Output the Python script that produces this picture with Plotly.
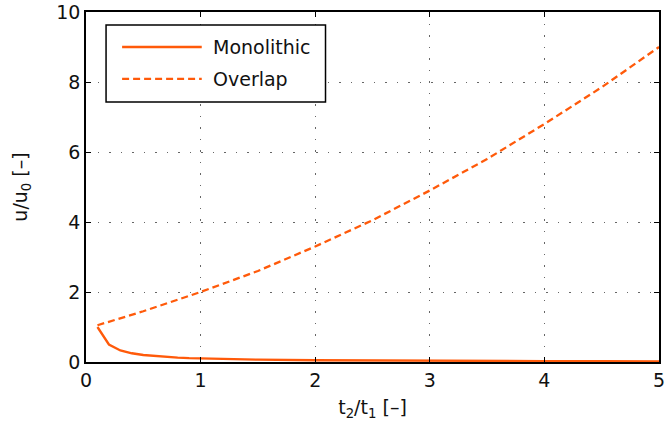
import plotly.graph_objects as go

# Data
ratio_mono = [0.1, 0.2, 0.3, 0.4, 0.5, 0.6, 0.7, 0.8, 0.9, 1.0, 1.5, 2.0, 2.5, 3.0, 3.5, 4.0, 4.5, 5.0]
u_mono = [1.0, 0.5, 0.33, 0.25, 0.2, 0.17, 0.14, 0.125, 0.11, 0.1, 0.067, 0.05, 0.04, 0.033, 0.029, 0.025, 0.022, 0.02]

ratio_overlap = [0.1, 0.5, 1.0, 1.5, 2.0, 2.5, 3.0, 3.5, 4.0, 4.5, 5.0]
u_overlap = [1.05, 1.45, 2.0, 2.6, 3.3, 4.05, 4.9, 5.8, 6.8, 7.85, 9.0]

x_ticks = [0, 1, 2, 3, 4, 5]
y_ticks = [0, 2, 4, 6, 8, 10]

COLOR = "#ff5a0a"
FONT = "DejaVu Sans"
DASH = "7px,4px"

fig = go.Figure()
fig.add_trace(go.Scatter(x=ratio_mono, y=u_mono, mode="lines", name="Monolithic",
                         line=dict(color=COLOR, width=2.3), showlegend=False))
fig.add_trace(go.Scatter(x=ratio_overlap, y=u_overlap, mode="lines", name="Overlap",
                         line=dict(color=COLOR, width=2.3, dash=DASH), showlegend=False))

axis_common = dict(showline=True, linecolor="black", linewidth=1.5, mirror="ticks",
                   ticks="inside", ticklen=5, tickcolor="black", ticklabeloverflow="allow",
                   showgrid=True, gridcolor="#666666", griddash="1.5px,10px", gridwidth=1.3,
                   zeroline=False, tickfont=dict(size=19, color="#111111", family=FONT))

fig.update_xaxes(range=[0, 5], tickvals=x_ticks, **axis_common,
                 title=dict(text="t<sub>2</sub>/t<sub>1</sub> [–]", font=dict(size=19, family=FONT, color="#111111"),
                            standoff=11))
fig.update_yaxes(range=[0, 10], tickvals=y_ticks, **axis_common,
                 title=dict(text="u/u<sub>0</sub> [–]", font=dict(size=19, family=FONT, color="#111111"),
                            standoff=24))

# Manual legend (box, line samples, labels) in paper coordinates
fig.add_shape(type="rect", xref="paper", yref="paper", x0=0.035, x1=0.418, y0=0.743, y1=0.963,
              line=dict(color="black", width=1.5), fillcolor="white", layer="above")
fig.add_shape(type="line", xref="paper", yref="paper", x0=0.063, x1=0.202, y0=0.9, y1=0.9,
              line=dict(color=COLOR, width=2.3), layer="above")
fig.add_shape(type="line", xref="paper", yref="paper", x0=0.063, x1=0.202, y0=0.809, y1=0.809,
              line=dict(color=COLOR, width=2.3, dash=DASH), layer="above")
fig.add_annotation(text="Monolithic", xref="paper", yref="paper", x=0.218, y=0.9,
                   xanchor="left", yanchor="middle", showarrow=False,
                   font=dict(size=19, family=FONT, color="#111111"))
fig.add_annotation(text="Overlap", xref="paper", yref="paper", x=0.218, y=0.809,
                   xanchor="left", yanchor="middle", showarrow=False,
                   font=dict(size=19, family=FONT, color="#111111"))

fig.update_layout(width=665, height=438, margin=dict(l=86, r=6, t=12, b=76, autoexpand=False),
                  plot_bgcolor="white", paper_bgcolor="white",
                  font=dict(family=FONT, color="#111111"))

fig.write_html("out.html")
